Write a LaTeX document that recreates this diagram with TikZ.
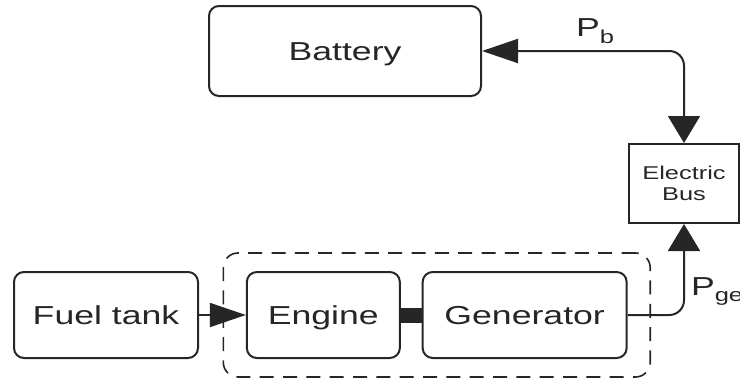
\documentclass[tikz,border=0pt]{standalone}
\usepackage{fontspec}
\setmainfont[FakeStretch=1.37]{Liberation Sans}
\usepackage{tikz}
\usetikzlibrary{arrows.meta,fit}
\newcommand\lowidx[1]{\raisebox{-5pt}{\fontsize{14}{14}\selectfont #1}}

\begin{document}
\begin{tikzpicture}[x=0.75pt,y=0.75pt,line width=1.5pt,color=black!85,
                    hhead/.tip={Triangle[length=27pt,width=18pt]},
                    vhead/.tip={Triangle[length=20.25pt,width=24pt]},
                    font=\fontsize{19.5}{23}\selectfont]
  \tikzstyle{block}=[draw,rounded corners=7.5pt,minimum height=64.5pt,
                     text height=14pt,text depth=0pt]
  \tikzstyle{bus}=[draw,minimum width=82.5pt,minimum height=59.25pt,align=center,
                   font=\fontsize{13.9}{15.75}\selectfont]
  \useasboundingbox (0,0) rectangle (740,-379);

  \node[block,minimum width=138pt] (fuel) at (106,-315) {Fuel tank};
  \node[block,minimum width=114.75pt] (engine) [right of=fuel,node distance=163pt] {Engine};
  \node[block,minimum width=153pt] (gen) [right of=engine,node distance=151pt] {Generator};

  \node[block,minimum width=204pt,minimum height=67.5pt] (battery) at (345,-51) {Battery};
  \node[bus] (bus) at (684,-183.5) {Electric\\Bus};

  \node[draw,dashed,dash pattern=on 10.5pt off 7pt,line width=1.2pt,rounded corners=11pt,
        fit=(engine)(gen),inner xsep=16.9pt,inner ysep=13.5pt] (unit) {};

  \draw[line width=11.25pt] (engine) -- (gen);
  \draw[-hhead] (fuel) -- (engine);
  \draw[hhead-vhead,rounded corners=11pt] (battery.east) -| node[pos=0.28,above=5pt,inner sep=0pt] {P\lowidx{b}} (bus.north);
  \draw[-vhead,rounded corners=11pt] (gen.east) -| node[pos=0.63,right=4.5pt,inner sep=0pt] {P\lowidx{gen}} (bus.south);
\end{tikzpicture}
\end{document}
